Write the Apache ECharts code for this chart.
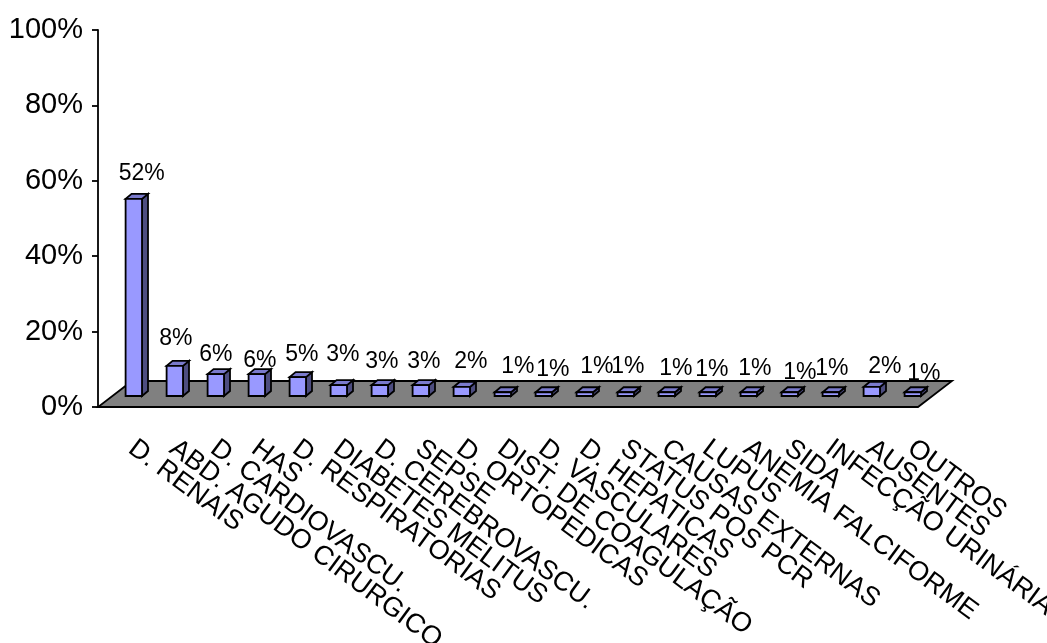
<!DOCTYPE html>
<html>
<head>
<meta charset="utf-8">
<style>html,body{margin:0;padding:0;background:#fff}#c{width:1047px;height:643px}</style>
<script src="https://cdn.jsdelivr.net/npm/echarts@6/dist/echarts.min.js"></script>
</head>
<body>
<div id="c"></div>
<script>
const categories = ["D. RENAIS","ABD. AGUDO CIRURGICO","D. CARDIOVASCU.","HAS","D. RESPIRATORIAS","DIABETES MELITUS","D. CEREBROVASCU.","SEPSE","D. ORTOPEDICAS","DIST. DE COAGULAÇÃO","D. VASCULARES","D. HEPATICAS","STATUS POS PCR","CAUSAS EXTERNAS","LUPUS","ANEMIA FALCIFORME","SIDA","INFECÇÃO URINÁRIA","AUSENTES","OUTROS"];
const values = [52.3,8,5.8,5.8,5,2.9,2.9,2.9,2.4,1,1,1,1,1,1,1,1,1,2.4,1];
const labelDx = [8,1,0,3,4,4,2,3,9,15,9,12,2,9,4,6,10,1,13,11];
const labelDy = [-25,-27,-19,-13,-22,-30,-23,-23,-25,-26,-23,-26,-26,-24,-23,-24,-20,-24,-20,-19];

const FONT = '"Liberation Sans", Arial, sans-serif';
const floorDx = 34, floorDy = 26;       // depth of the floor
const barShiftX = 15.3, barShiftY = 11; // bars stand mid-way into the floor
const barDepthX = 6, barDepthY = 5;     // depth of a bar
const barFrac = 0.4;
const LW = 1.8;

function poly(points, fill) {
  return { type: 'polygon', shape: { points }, style: { fill, stroke: '#000', lineWidth: LW, lineJoin: 'miter' } };
}

const chart = echarts.init(document.getElementById('c'), null, { renderer: 'canvas' });
chart.setOption({
  animation: false,
  backgroundColor: '#fff',
  grid: { left: 98, top: 30, width: 820, height: 377, containLabel: false, outerBoundsMode: 'none' },
  xAxis: {
    type: 'category',
    data: categories,
    axisLine: { show: false },
    axisTick: { show: false },
    axisLabel: {
      interval: 0, rotate: -36.5, margin: 29, hideOverlap: false,
      fontFamily: FONT, fontSize: 27, color: '#000', padding: [0, 0, 0, 16]
    }
  },
  yAxis: {
    type: 'value', min: 0, max: 100, interval: 20,
    splitLine: { show: false },
    axisLine: { show: true, lineStyle: { color: '#000', width: LW } },
    axisTick: { show: true, length: 6, lineStyle: { color: '#000', width: LW } },
    axisLabel: { formatter: '{value}%', margin: 15, fontFamily: FONT, fontSize: 29, color: '#000' }
  },
  series: [
    {
      type: 'custom', z: 1, clip: false, silent: true,
      data: [[0, 0]],
      encode: { x: 0, y: 1 },
      renderItem(params, api) {
        const band = api.size([1, 0])[0];
        const p = api.coord([0, 0]);
        const x0 = p[0] - band / 2, x1 = x0 + band * categories.length, y = p[1];
        return poly([[x0, y], [x1, y], [x1 + floorDx, y - floorDy], [x0 + floorDx, y - floorDy]], '#808080');
      }
    },
    {
      type: 'custom', z: 2, clip: false, silent: true,
      data: values.map((v, i) => [i, v]),
      encode: { x: 0, y: 1 },
      renderItem(params, api) {
        const i = api.value(0), v = api.value(1);
        const band = api.size([1, 0])[0];
        const w = band * barFrac;
        const base = api.coord([i, 0]);
        const top = api.coord([i, v]);
        const xl = base[0] + barShiftX - w / 2, xr = xl + w;
        const yb = base[1] - barShiftY, yt = top[1] - barShiftY;
        const dx = barDepthX, dy = barDepthY;
        return {
          type: 'group',
          children: [
            poly([[xr, yb], [xr + dx, yb - dy], [xr + dx, yt - dy], [xr, yt]], '#4D4D80'),
            poly([[xl, yt], [xr, yt], [xr + dx, yt - dy], [xl + dx, yt - dy]], '#7A7ACC'),
            poly([[xl, yb], [xr, yb], [xr, yt], [xl, yt]], '#9999FF')
          ]
        };
      }
    },
    {
      type: 'custom', z: 3, clip: false, silent: true,
      data: values.map((v, i) => [i, v]),
      encode: { x: 0, y: 1 },
      renderItem(params, api) {
        const i = api.value(0), v = api.value(1);
        const top = api.coord([i, v]);
        return {
          type: 'text',
          style: {
            text: Math.round(v) + '%',
            x: top[0] + barShiftX + labelDx[i],
            y: top[1] - barShiftY + labelDy[i],
            align: 'center', verticalAlign: 'middle',
            font: '23px ' + FONT, fill: '#000'
          }
        };
      }
    }
  ]
});
</script>
</body>
</html>
